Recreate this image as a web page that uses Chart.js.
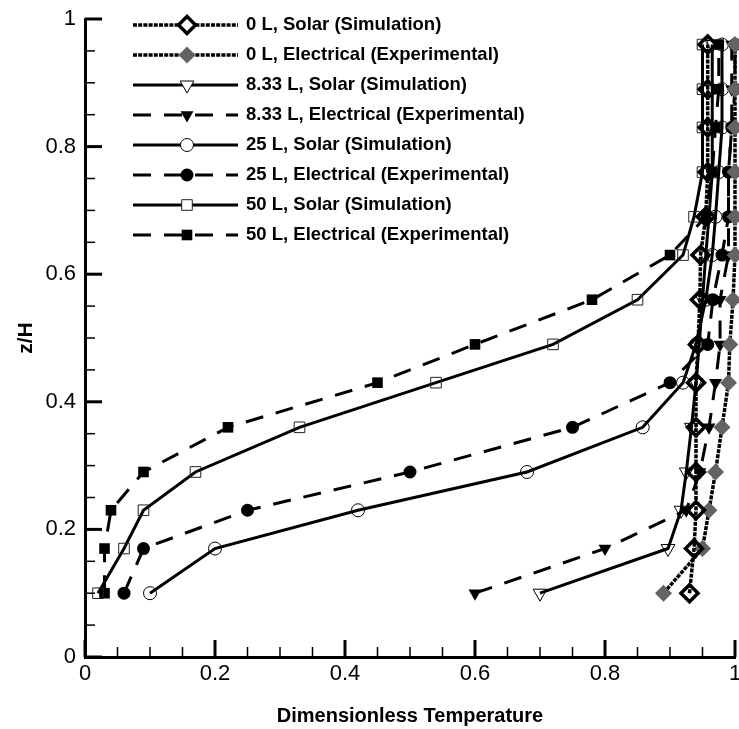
<!DOCTYPE html>
<html>
<head>
<meta charset="utf-8">
<title>z/H vs Dimensionless Temperature</title>
<script src="https://cdn.jsdelivr.net/npm/chart.js@4.4.1/dist/chart.umd.min.js"></script>
<style>
  html, body { margin: 0; padding: 0; background: #fff; }
  canvas { display: block; }
</style>
</head>
<body>
<canvas id="chart" width="739" height="729"></canvas>
<script>
// z/H levels where temperature was sampled (shared by every series)
const zLevels = [0.10, 0.17, 0.23, 0.29, 0.36, 0.43, 0.49, 0.56, 0.63, 0.69, 0.76, 0.83, 0.89, 0.96];

// dimensionless temperature at each z level
const solar0   = [0.930, 0.937, 0.940, 0.940, 0.940, 0.940, 0.943, 0.946, 0.947, 0.955, 0.958, 0.958, 0.958, 0.958];
const elec0    = [0.890, 0.950, 0.960, 0.970, 0.980, 0.990, 0.992, 0.997, 1.000, 1.000, 1.000, 1.000, 1.000, 1.000];
const solar833 = [0.700, 0.897, 0.917, 0.925, 0.933, 0.940, 0.945, 0.950, 0.955, 0.960, 0.965, 0.965, 0.965, 0.965];
const elec833  = [0.600, 0.800, 0.925, 0.946, 0.960, 0.970, 0.977, 0.977, 0.990, 0.990, 0.990, 0.995, 0.995, 0.995];
const solar25  = [0.100, 0.200, 0.420, 0.680, 0.858, 0.920, 0.940, 0.955, 0.965, 0.970, 0.975, 0.980, 0.980, 0.980];
const elec25   = [0.060, 0.090, 0.250, 0.500, 0.750, 0.900, 0.958, 0.966, 0.980, 0.990, 0.990, 0.995, 1.000, 1.000];
const solar50  = [0.020, 0.060, 0.090, 0.170, 0.330, 0.540, 0.720, 0.850, 0.920, 0.937, 0.950, 0.950, 0.950, 0.950];
const elec50   = [0.030, 0.030, 0.040, 0.090, 0.220, 0.450, 0.600, 0.780, 0.900, 0.955, 0.965, 0.970, 0.975, 0.975];

const seriesLabels = [
  '0 L, Solar (Simulation)',
  '0 L, Electrical (Experimental)',
  '8.33 L, Solar (Simulation)',
  '8.33 L, Electrical (Experimental)',
  '25 L, Solar (Simulation)',
  '25 L, Electrical (Experimental)',
  '50 L, Solar (Simulation)',
  '50 L, Electrical (Experimental)',
];

const xTicks = [0, 0.2, 0.4, 0.6, 0.8, 1];
const yTicks = [0, 0.2, 0.4, 0.6, 0.8, 1];

const FONT = "'Liberation Sans', Arial, sans-serif";
const CLEAR = 'rgba(255,255,255,0)';
const GRAY = '#636363';
const DOTTED = [4, 1.2];
const DASHED = [18, 13];

// line + marker style per series, same order as the labels
const styles = [
  { values: solar0,   width: 3.5, dash: DOTTED, shape: 'rectRot',  size: 8.5, rot: 0,   fill: CLEAR,  edge: '#000', edgeW: 3.5, legendFill: '#fff' },
  { values: elec0,    width: 3.5, dash: DOTTED, shape: 'rectRot',  size: 8.5, rot: 0,   fill: GRAY,   edge: GRAY,   edgeW: 0,   legendFill: GRAY },
  { values: solar833, width: 3,   dash: [],     shape: 'triangle', size: 8,   rot: 180, fill: CLEAR,  edge: '#000', edgeW: 1,   legendFill: '#fff' },
  { values: elec833,  width: 3,   dash: DASHED, shape: 'triangle', size: 7.5, rot: 180, fill: '#000', edge: '#000', edgeW: 0,   legendFill: '#000' },
  { values: solar25,  width: 3,   dash: [],     shape: 'circle',   size: 6.5, rot: 0,   fill: CLEAR,  edge: '#000', edgeW: 1,   legendFill: '#fff' },
  { values: elec25,   width: 3,   dash: DASHED, shape: 'circle',   size: 6.5, rot: 0,   fill: '#000', edge: '#000', edgeW: 0,   legendFill: '#000' },
  { values: solar50,  width: 3,   dash: [],     shape: 'rect',     size: 7.5, rot: 0,   fill: CLEAR,  edge: '#222', edgeW: 1,   legendFill: '#fff' },
  { values: elec50,   width: 3,   dash: DASHED, shape: 'rect',     size: 7.5, rot: 0,   fill: '#000', edge: '#000', edgeW: 0,   legendFill: '#000' },
];

function withMinors(majors, sub) {
  const out = [];
  majors.forEach((v, i) => {
    out.push({ v, major: true });
    if (i < majors.length - 1) {
      const step = (majors[i + 1] - v) / sub;
      for (let k = 1; k < sub; k++) out.push({ v: v + k * step, major: false });
    }
  });
  return out;
}

// tecplot-style ticks pointing into the plot
const inwardTicks = {
  id: 'inwardTicks',
  afterDraw(chart) {
    const { ctx, chartArea: a, scales: { x, y } } = chart;
    ctx.save();
    ctx.strokeStyle = '#000';
    withMinors(xTicks, 4).forEach(t => {
      const px = x.getPixelForValue(t.v);
      ctx.lineWidth = t.major ? 3 : 1.5;
      ctx.beginPath();
      ctx.moveTo(px, a.bottom);
      ctx.lineTo(px, a.bottom - (t.major ? 17 : 10));
      ctx.stroke();
    });
    withMinors(yTicks, 4).forEach(t => {
      const py = y.getPixelForValue(t.v);
      ctx.lineWidth = t.major ? 3 : 1.5;
      ctx.beginPath();
      ctx.moveTo(a.left, py);
      ctx.lineTo(a.left + (t.major ? 17 : 10), py);
      ctx.stroke();
    });
    ctx.restore();
  },
};

const legendBox = {
  id: 'legendBox',
  afterDraw(chart) {
    const { ctx } = chart;
    styles.forEach((s, i) => {
      const yy = 25 + i * 30;
      ctx.save();
      ctx.strokeStyle = '#000';
      ctx.lineWidth = s.width;
      ctx.setLineDash(s.dash);
      ctx.beginPath();
      ctx.moveTo(133, yy);
      ctx.lineTo(238, yy);
      ctx.stroke();
      ctx.setLineDash([]);
      ctx.fillStyle = s.legendFill;
      ctx.strokeStyle = s.edge;
      ctx.lineWidth = s.edgeW;
      Chart.helpers.drawPoint(ctx, { pointStyle: s.shape, radius: s.size, rotation: s.rot, borderWidth: s.edgeW }, 187, yy);
      ctx.fillStyle = '#000';
      ctx.font = `bold 18.5px ${FONT}`;
      ctx.textBaseline = 'middle';
      ctx.textAlign = 'left';
      ctx.fillText(seriesLabels[i], 246, yy);
      ctx.restore();
    });
  },
};

const datasets = styles.map((s, i) => ({
  label: seriesLabels[i],
  data: zLevels.map((z, k) => ({ x: s.values[k], y: z })),
  showLine: true,
  tension: 0,
  clip: false,
  borderColor: '#000',
  borderWidth: s.width,
  borderDash: s.dash,
  pointStyle: s.shape,
  pointRadius: s.size,
  pointHoverRadius: s.size,
  pointRotation: s.rot,
  pointBackgroundColor: s.fill,
  pointBorderColor: s.edge,
  pointBorderWidth: s.edgeW,
}));

const tickFont = { family: FONT, size: 22 };
const titleFont = { family: FONT, size: 20, weight: 'bold' };
const plainLabel = v => String(+v.toFixed(2));

new Chart(document.getElementById('chart'), {
  type: 'scatter',
  data: { datasets },
  options: {
    responsive: false,
    animation: false,
    events: [],
    layout: { autoPadding: false, padding: { top: 19, right: 4, left: 0, bottom: 0 } },
    plugins: { legend: { display: false }, tooltip: { enabled: false } },
    scales: {
      x: {
        type: 'linear', min: 0, max: 1,
        afterBuildTicks: sc => { sc.ticks = xTicks.map(v => ({ value: v })); },
        afterFit: sc => { sc.height = 72; sc.paddingLeft = 0; sc.paddingRight = 0; },
        grid: { display: false, drawTicks: false },
        border: { display: true, width: 3, color: '#000' },
        ticks: { color: '#000', font: tickFont, padding: 4, autoSkip: false, maxRotation: 0, callback: plainLabel },
        title: { display: true, text: 'Dimensionless Temperature', color: '#000', font: titleFont, padding: { top: 0, bottom: 1 } },
      },
      y: {
        type: 'linear', min: 0, max: 1,
        afterBuildTicks: sc => { sc.ticks = yTicks.map(v => ({ value: v })); },
        afterFit: sc => { sc.width = 85; sc.paddingTop = 0; sc.paddingBottom = 0; },
        grid: { display: false, drawTicks: false },
        border: { display: true, width: 3, color: '#000' },
        ticks: { color: '#000', font: tickFont, padding: 9, autoSkip: false, callback: plainLabel },
        title: { display: true, text: 'z/H', color: '#000', font: { family: FONT, size: 21, weight: 'bold' }, padding: { top: 14, bottom: 0 } },
      },
    },
  },
  plugins: [inwardTicks, legendBox],
});
</script>
</body>
</html>
